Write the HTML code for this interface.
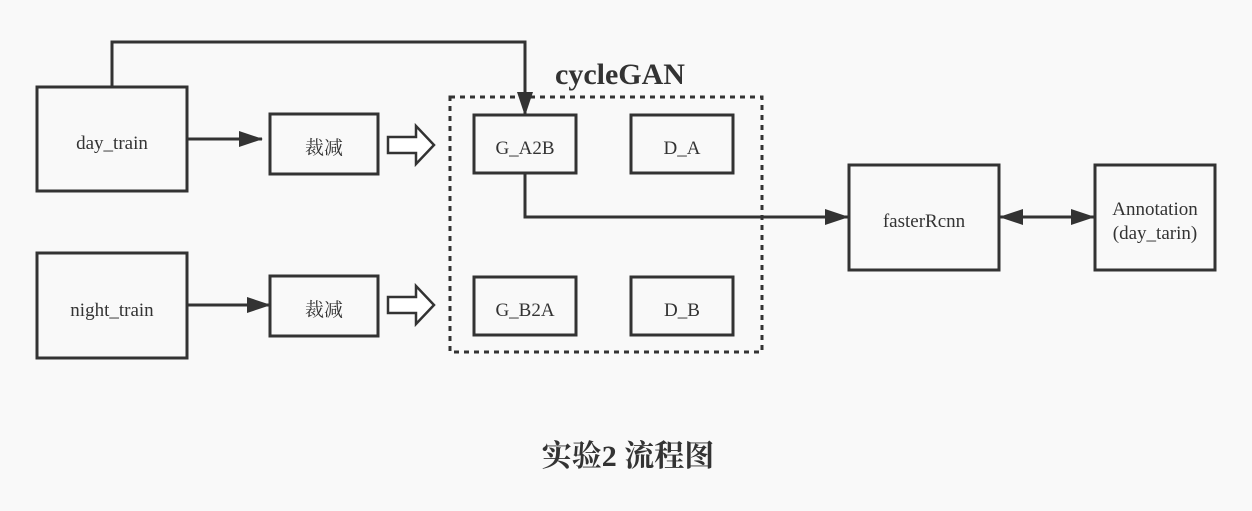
<!DOCTYPE html>
<html><head><meta charset="utf-8"><style>
html,body{margin:0;padding:0;background:#f9f9f9;}
svg{display:block}
text{font-family:"Liberation Serif","Noto Serif CJK SC",serif;fill:#333;}
</style></head><body>
<svg width="1252" height="511" viewBox="0 0 1252 511" xmlns="http://www.w3.org/2000/svg">
<defs>
<marker id="a" markerWidth="12" markerHeight="10" refX="11" refY="5" orient="auto" markerUnits="userSpaceOnUse" viewBox="0 0 12 10"><path d="M0,0 L12,5 L0,10 z" fill="#333"/></marker>
<marker id="b" markerWidth="24" markerHeight="16" refX="23" refY="8" orient="auto-start-reverse" markerUnits="userSpaceOnUse" viewBox="0 0 24 16"><path d="M0,0 L24,8 L0,16 z" fill="#333"/></marker>
</defs>
<g fill="none" stroke="#333" stroke-width="3">
<rect x="37" y="87" width="150" height="104"/>
<rect x="37" y="253" width="150" height="105"/>
<rect x="270" y="114" width="108" height="60"/>
<rect x="270" y="276" width="108" height="60"/>
<rect x="450" y="97" width="312" height="255" stroke-dasharray="5,5"/>
<rect x="474" y="115" width="102" height="58"/>
<rect x="631" y="115" width="102" height="58"/>
<rect x="474" y="277" width="102" height="58"/>
<rect x="631" y="277" width="102" height="58"/>
<rect x="849" y="165" width="150" height="105"/>
<rect x="1095" y="165" width="120" height="105"/>
<path d="M388,137 h28 v-11 l18,19 l-18,19 v-11 h-28 z" fill="#fff" stroke-width="2.5"/>
<path d="M388,297 h28 v-11 l18,19 l-18,19 v-11 h-28 z" fill="#fff" stroke-width="2.5"/>
<path d="M188,139 H262" marker-end="url(#b)"/>
<path d="M188,305 H270" marker-end="url(#b)"/>
<path d="M112,87 V42 H525 V115" marker-end="url(#b)"/>
<path d="M525,173 V217 H848" marker-end="url(#b)"/>
<path d="M1000,217 H1094" marker-start="url(#b)" marker-end="url(#b)"/>
</g>
<g font-size="19" text-anchor="middle">
<text x="112" y="149">day_train</text>
<text x="112" y="316">night_train</text>
<text x="324" y="154">裁减</text>
<text x="324" y="316">裁减</text>
<text x="525" y="154">G_A2B</text>
<text x="682" y="154">D_A</text>
<text x="525" y="316">G_B2A</text>
<text x="682" y="316">D_B</text>
<text x="924" y="227">fasterRcnn</text>
<text x="1155" y="215">Annotation</text>
<text x="1155" y="239">(day_tarin)</text>
</g>
<text x="620" y="84" font-size="30" font-weight="bold" text-anchor="middle">cycleGAN</text>
<text x="628" y="466" font-size="30" font-weight="bold" text-anchor="middle">实验2 流程图</text>
</svg>
</body></html>
